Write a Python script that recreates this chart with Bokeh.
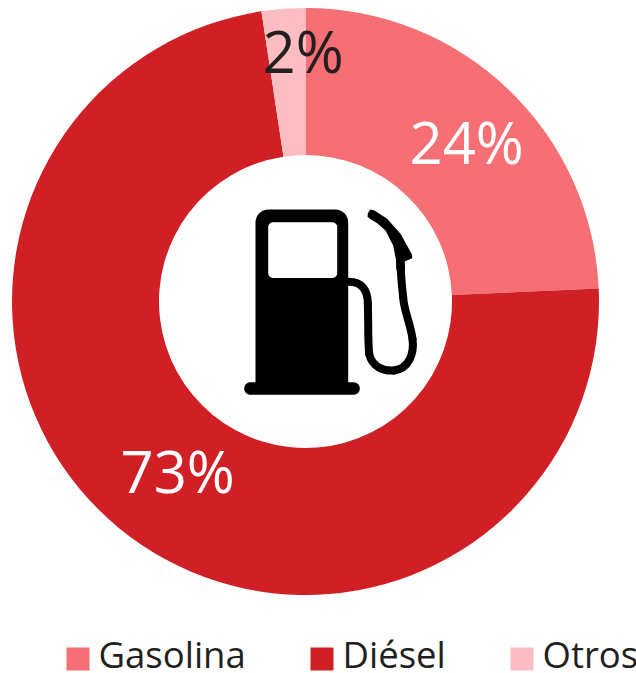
import math
from bokeh.plotting import figure
from bokeh.core.properties import value
from bokeh.embed import file_html
from bokeh.resources import INLINE

categories = ["Gasolina", "Diésel", "Otros"]
shares = [24.3, 73.3, 2.4]
labels = ["24%", "73%", "2%"]
colors = ["#F56F75", "#D02026", "#FBBDC1"]
label_colors = ["#FFFFFF", "#FFFFFF", "#231F20"]

W, H = 636, 673
FONT = "Open Sans"
INK = "#231F20"
Y = lambda v: 673 - v   # picture pixels, measured from the top, to data

p = figure(width=W, height=H, output_backend="svg", toolbar_location=None,
           x_range=(0, 636), y_range=(0, 673), min_border=0, outline_line_color=None)
p.axis.visible = False
p.grid.visible = False
p.background_fill_color = "#FFFFFF"

# donut
cx, cy, r_out, r_in = 305, Y(301), 293.5, 146.5
a = math.pi / 2
tau = 2 * math.pi
for share, c in zip(shares, colors):
    b = a - share / sum(shares) * tau
    p.annular_wedge(x=cx, y=cy, inner_radius=r_in, outer_radius=r_out, start_angle=b, end_angle=a,
                    fill_color=c, line_color=None)
    a = b

# value labels
label_xy = [(409, 141), (120, 470), (262, 50)]
for t, c, (x, y) in zip(labels, label_colors, label_xy):
    p.text(x=[x], y=[Y(y)], text=[t], text_color=c, text_font=value(FONT), text_font_size="58px",
           text_align="left", text_baseline="alphabetic")

# legend
sw_x = [66, 310, 510]
tx_x = [98, 342, 542]
for cat, c, sx, tx in zip(categories, colors, sw_x, tx_x):
    p.quad(left=sx, right=sx + 23, top=Y(647), bottom=Y(670), fill_color=c, line_color=None)
    p.text(x=[tx], y=[Y(653)], text=[cat], text_color=INK, text_font=value(FONT), text_font_size="36.5px",
           text_align="left", text_baseline="alphabetic")


# fuel pump icon
def rounded(x0, x1, y0, y1, r_top, r_bot):
    pts = []
    for (ox, oy, r, s) in [(x1 - r_top, y0 + r_top, r_top, -90), (x1 - r_bot, y1 - r_bot, r_bot, 0),
                           (x0 + r_bot, y1 - r_bot, r_bot, 90), (x0 + r_top, y0 + r_top, r_top, 180)]:
        for k in range(9):
            t = math.radians(s + k * 90 / 8)
            pts.append((ox + r * math.cos(t), oy + r * math.sin(t)))
    return [q[0] for q in pts], [Y(q[1]) for q in pts]


def icon(x, y):
    return 230 + x / 3, Y(190 + y / 3)


bx, by = rounded(255, 347.7, 209, 384, 13, 0)
p.patch(bx, by, fill_color="#000000", line_color=None)
bx, by = rounded(243.7, 359.3, 381.7, 394.3, 6.3, 6.3)
p.patch(bx, by, fill_color="#000000", line_color=None)
bx, by = rounded(267.7, 336.7, 221.7, 277.5, 5, 5)
p.patch(bx, by, fill_color="#FFFFFF", line_color=None)

hose = [
    ((350, 274), (395, 272), (412, 300), (412, 340)),
    ((412, 340), (414, 400), (412, 450), (416, 490)),
    ((416, 490), (425, 530), (460, 542), (490, 540)),
    ((490, 540), (535, 535), (552, 490), (546, 445)),
    ((546, 445), (540, 400), (520, 360), (518, 320)),
    ((518, 320), (514, 280), (510, 250), (510, 210)),
]
for s in hose:
    pts = [icon(*q) for q in s]
    p.bezier(x0=[pts[0][0]], y0=[pts[0][1]], cx0=[pts[1][0]], cy0=[pts[1][1]],
             cx1=[pts[2][0]], cy1=[pts[2][1]], x1=[pts[3][0]], y1=[pts[3][1]],
             line_color="#000000", line_width=8, line_cap="round")

nozzle = [(412, 68), (420, 57), (432, 60), (470, 85), (510, 130), (545, 193), (545, 203), (522, 213),
          (524, 240), (498, 240), (496, 205), (488, 165), (465, 120), (440, 98), (418, 85), (411, 78)]
pts = [icon(*q) for q in nozzle]
p.patch([q[0] for q in pts], [q[1] for q in pts], fill_color="#000000", line_color=None)

open("out.html", "w").write(file_html(p, INLINE))
